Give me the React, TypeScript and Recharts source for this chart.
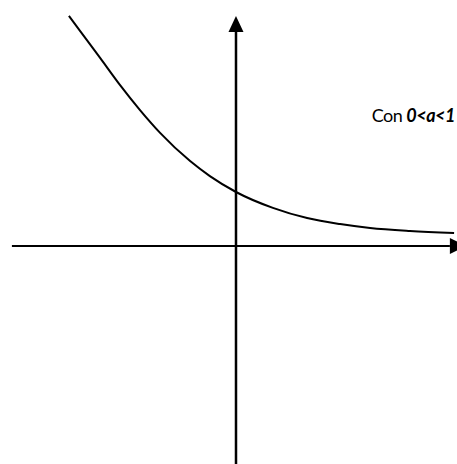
import React from 'react';
import {
  LineChart,
  Line,
  XAxis,
  YAxis,
  ReferenceLine,
  ReferenceDot,
  Customized
} from 'recharts';

const xValues = [-5.57, -5.2, -4.53, -3.87, -3.2, -2.53, -1.53, -0.87, 0, 1.23, 2.37, 3.47, 4.47, 5.8, 7.27];
const yValues = [7.67, 7.17, 6.27, 5.37, 4.53, 3.77, 2.83, 2.33, 1.8, 1.27, 0.93, 0.73, 0.6, 0.5, 0.43];

const xDomain = [-7.867, 7.367];
const yDomain = [-7.267, 8.2];
const xAxisStart = -7.47;
const arrowBase = 7.13;

const data = xValues.map((x, i) => ({ x, y: yValues[i] }));

const RightArrow = (props: any) => {
  const { cx, cy } = props;
  return <path d={`M${cx},${cy - 8} L${cx + 16},${cy} L${cx},${cy + 8} Z`} fill="#000" />;
};

const UpArrow = (props: any) => {
  const { cx, cy } = props;
  return <path d={`M${cx - 7.5},${cy} L${cx},${cy - 16} L${cx + 7.5},${cy} Z`} fill="#000" />;
};

const Caption = () => (
  <text
    x={455}
    y={122}
    textAnchor="end"
    fontFamily="Lato, 'Liberation Sans', sans-serif"
    fontSize={18}
    letterSpacing={-0.5}
    fill="#000"
  >
    Con <tspan fontWeight="bold" fontStyle="italic">0&lt;a&lt;1</tspan>
  </text>
);

export default function App() {
  return (
    <div style={{ position: 'absolute', left: 0, top: 0, background: '#fff' }}>
      <LineChart width={457} height={464} data={data} margin={{ top: 0, right: 0, bottom: 0, left: 0 }}>
        <XAxis dataKey="x" type="number" domain={xDomain} hide allowDataOverflow />
        <YAxis type="number" domain={yDomain} hide allowDataOverflow />
        <ReferenceLine
          segment={[{ x: xAxisStart, y: 0 }, { x: arrowBase, y: 0 }]}
          stroke="#000"
          strokeWidth={2}
          ifOverflow="visible"
        />
        <ReferenceLine
          segment={[{ x: 0, y: yDomain[0] }, { x: 0, y: arrowBase }]}
          stroke="#000"
          strokeWidth={2.5}
          ifOverflow="visible"
        />
        <ReferenceDot x={arrowBase} y={0} shape={RightArrow} ifOverflow="visible" />
        <ReferenceDot x={0} y={arrowBase} shape={UpArrow} ifOverflow="visible" />
        <Line
          dataKey="y"
          type="monotone"
          stroke="#000"
          strokeWidth={2}
          dot={false}
          activeDot={false}
          isAnimationActive={false}
        />
        <Customized component={Caption} />
      </LineChart>
    </div>
  );
}
